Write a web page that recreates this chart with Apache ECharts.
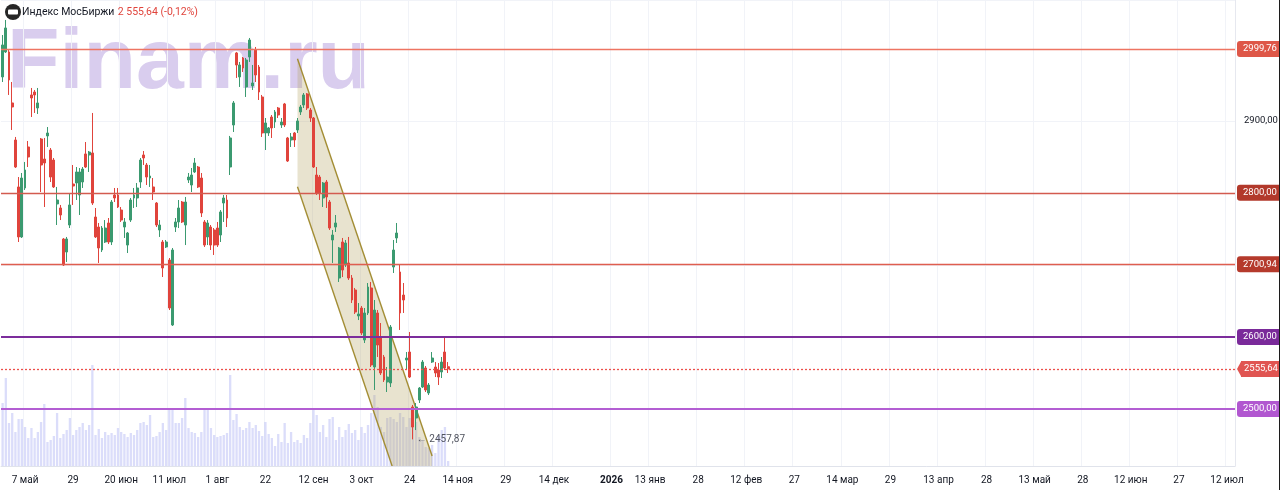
<!DOCTYPE html>
<html>
<head>
<meta charset="utf-8">
<script src="https://cdn.jsdelivr.net/npm/echarts@6/dist/echarts.min.js"></script>
<style>
html,body{margin:0;padding:0;background:#fff;overflow:hidden;width:1280px;height:490px;}
#chart{width:1280px;height:490px;}
</style>
</head>
<body>
<div id="chart"></div>
<script>
// ---------- data ----------
const title = 'Индекс МосБиржи';
const lastQuote = '2 555,64 (-0,12%)';
const watermark = 'Finam.ru';

// number of bar slots on the time axis (history + projected future)
const slotCount = 385;
// slot index of each time-axis label and its text
const tickSlots  = [7, 22, 37, 52, 67, 82, 97, 112, 127, 142, 157, 172, 190, 202, 217, 232, 247, 262, 277, 292, 307, 322, 337, 352, 367, 382];
const tickLabels = ['7 май', '29', '20 июн', '11 июл', '1 авг', '22', '12 сен', '3 окт', '24', '14 ноя', '29', '14 дек', '2026', '13 янв', '28', '12 фев', '27', '14 мар', '29', '13 апр', '28', '13 май', '28', '12 июн', '27', '12 июл'];

// daily candles: [open, close, low, high]
const candles = [
  [2960.9, 3005.3, 2953.9, 3019.1], [2995.6, 3028.9, 2994.2, 3040.0], [2995.6, 2956.7, 2935.9, 2998.3], [2924.8, 2919.2, 2887.3, 2953.9],
  [2873.4, 2835.9, 2834.5, 2877.6], [2808.2, 2738.8, 2731.8, 2822.0], [2738.8, 2820.6, 2737.4, 2827.6], [2806.8, 2831.8, 2804.0, 2842.9],
  [2863.7, 2849.8, 2835.9, 2872.0], [2935.9, 2931.7, 2905.3, 2945.6], [2940.0, 2935.9, 2910.9, 2942.8], [2917.8, 2924.8, 2909.5, 2945.6],
  [2874.8, 2838.7, 2801.2, 2876.2], [2847.0, 2841.5, 2780.4, 2876.2], [2879.0, 2883.1, 2863.7, 2891.4], [2859.5, 2822.0, 2815.1, 2862.3],
  [2845.6, 2808.2, 2806.8, 2848.4], [2784.6, 2790.1, 2755.4, 2808.2], [2779.0, 2769.3, 2762.3, 2783.2], [2736.0, 2699.9, 2698.5, 2737.4],
  [2717.9, 2736.0, 2704.1, 2738.8], [2755.4, 2783.2, 2751.2, 2799.8], [2812.3, 2809.5, 2783.2, 2838.7], [2813.7, 2829.0, 2790.1, 2835.9],
  [2797.1, 2829.0, 2769.3, 2834.5], [2815.1, 2833.1, 2806.8, 2835.9], [2854.0, 2835.9, 2834.5, 2870.6], [2852.6, 2856.7, 2829.0, 2858.1],
  [2855.4, 2785.9, 2783.2, 2910.9], [2766.5, 2738.8, 2737.4, 2779.0], [2752.6, 2723.5, 2702.7, 2758.2], [2720.7, 2751.2, 2717.9, 2754.0],
  [2731.8, 2751.2, 2730.4, 2762.3], [2758.2, 2731.8, 2729.0, 2765.1], [2731.8, 2787.3, 2727.6, 2790.1], [2797.1, 2792.9, 2787.3, 2806.8],
  [2797.1, 2780.4, 2779.0, 2806.8], [2776.2, 2762.3, 2759.6, 2780.4], [2752.6, 2759.6, 2737.4, 2765.1], [2727.6, 2744.3, 2716.5, 2745.7],
  [2762.3, 2790.1, 2759.6, 2792.9], [2792.9, 2797.1, 2779.0, 2806.8], [2792.9, 2806.8, 2780.4, 2813.7], [2815.1, 2845.6, 2806.8, 2848.4],
  [2852.6, 2848.4, 2838.7, 2858.1], [2838.7, 2822.0, 2810.9, 2841.5], [2820.6, 2823.4, 2808.2, 2838.7], [2808.2, 2801.2, 2790.1, 2820.6],
  [2785.9, 2755.4, 2752.6, 2787.3], [2748.5, 2755.4, 2738.8, 2762.3], [2731.8, 2695.7, 2683.2, 2734.6], [2724.9, 2731.8, 2723.5, 2734.6],
  [2706.8, 2640.2, 2637.4, 2709.6], [2616.6, 2720.7, 2615.2, 2723.5], [2752.6, 2759.6, 2745.7, 2765.1], [2759.6, 2779.0, 2751.2, 2790.1],
  [2787.3, 2759.6, 2758.2, 2788.7], [2755.4, 2787.3, 2727.6, 2794.3], [2817.9, 2822.0, 2813.7, 2827.6], [2810.9, 2824.8, 2801.2, 2834.5],
  [2829.0, 2841.5, 2827.6, 2848.4], [2835.9, 2808.2, 2806.8, 2837.3], [2820.6, 2772.1, 2766.5, 2827.6], [2759.6, 2727.6, 2724.9, 2762.3],
  [2738.8, 2758.2, 2727.6, 2762.3], [2752.6, 2727.6, 2720.7, 2755.4], [2748.5, 2727.6, 2713.8, 2751.2], [2751.2, 2727.6, 2724.9, 2759.6],
  [2741.5, 2773.5, 2731.8, 2776.2], [2785.9, 2792.9, 2759.6, 2797.1], [2790.1, 2765.1, 2752.6, 2797.1], [2835.9, 2876.2, 2824.8, 2879.0],
  [2894.2, 2924.8, 2884.5, 2927.5], [2994.2, 2977.5, 2959.5, 2995.6], [2960.9, 2977.5, 2947.0, 2981.7], [2987.2, 2973.3, 2967.8, 2988.6],
  [2947.0, 2984.4, 2933.1, 2987.2], [2988.6, 3012.2, 2981.7, 3015.0], [2948.4, 2952.5, 2942.8, 2977.5], [2998.3, 2963.6, 2953.9, 3002.5],
  [2974.7, 2940.0, 2928.9, 2977.5], [2933.1, 2883.1, 2877.6, 2935.9], [2883.1, 2897.0, 2859.5, 2903.9], [2883.1, 2890.1, 2879.0, 2891.4],
  [2905.3, 2890.1, 2876.2, 2908.1], [2898.4, 2912.3, 2890.1, 2915.0], [2917.8, 2908.1, 2903.9, 2919.2], [2894.2, 2898.4, 2890.1, 2903.9],
  [2923.4, 2894.2, 2891.4, 2924.8], [2876.2, 2844.2, 2842.9, 2877.6], [2873.4, 2877.6, 2863.7, 2883.1], [2883.1, 2873.4, 2863.7, 2884.5],
  [2887.3, 2899.8, 2883.1, 2903.9], [2912.3, 2919.2, 2908.1, 2922.0], [2922.0, 2935.9, 2917.8, 2938.6], [2937.3, 2917.8, 2915.0, 2938.6],
  [2915.0, 2903.9, 2898.4, 2917.8], [2903.9, 2835.9, 2834.5, 2905.3], [2824.8, 2799.8, 2797.1, 2835.9], [2822.0, 2799.8, 2790.1, 2824.8],
  [2792.9, 2813.7, 2780.4, 2815.1], [2815.1, 2794.3, 2779.0, 2817.9], [2787.3, 2751.2, 2748.5, 2790.1], [2734.6, 2741.5, 2702.7, 2748.5],
  [2752.6, 2758.2, 2745.7, 2769.3], [2681.8, 2723.5, 2676.3, 2724.9], [2731.8, 2692.9, 2683.2, 2737.4], [2699.9, 2730.4, 2697.1, 2734.6],
  [2702.7, 2681.8, 2679.1, 2738.8], [2681.8, 2651.3, 2647.1, 2686.0], [2665.2, 2634.6, 2631.9, 2668.0], [2629.1, 2631.9, 2623.5, 2647.1],
  [2640.2, 2605.5, 2602.7, 2643.0], [2595.8, 2633.3, 2591.6, 2640.2], [2633.3, 2669.3, 2630.5, 2674.9], [2668.0, 2561.1, 2558.3, 2676.3],
  [2558.3, 2637.4, 2526.4, 2651.3], [2633.3, 2588.8, 2572.2, 2637.4], [2598.6, 2550.0, 2547.2, 2619.4], [2572.2, 2540.3, 2537.5, 2575.0],
  [2537.5, 2544.4, 2523.6, 2558.3], [2536.1, 2613.8, 2530.5, 2616.6], [2697.1, 2720.7, 2688.8, 2734.6], [2737.4, 2744.3, 2730.4, 2758.2],
  [2690.2, 2633.3, 2609.7, 2699.9], [2658.2, 2651.3, 2633.3, 2674.9], [2568.0, 2570.8, 2554.1, 2579.1], [2579.1, 2544.4, 2543.0, 2606.9],
  [2502.8, 2475.0, 2457.87, 2505.6], [2487.5, 2502.8, 2470.8, 2508.3], [2512.5, 2529.1, 2508.3, 2530.5], [2530.5, 2565.2, 2529.1, 2568.0],
  [2556.9, 2526.4, 2523.6, 2559.7], [2522.2, 2533.3, 2519.4, 2536.1], [2565.2, 2570.8, 2563.9, 2579.1], [2558.3, 2550.0, 2544.4, 2565.2],
  [2554.1, 2544.4, 2533.3, 2563.9], [2551.4, 2565.2, 2543.0, 2572.2], [2579.1, 2556.9, 2554.1, 2599.9], [2558.7, 2555.64, 2550.0, 2565.2]
];

// daily turnover (relative units)
const volumes = [
  63, 88, 43, 53, 34, 47, 47, 39, 28, 38,
  28, 34, 44, 62, 24, 26, 30, 53, 28, 32,
  36, 48, 31, 36, 39, 43, 36, 41, 101, 31,
  37, 28, 34, 31, 33, 31, 38, 34, 32, 29,
  33, 31, 36, 43, 44, 41, 51, 29, 30, 34,
  43, 36, 56, 57, 43, 43, 48, 68, 38, 34,
  33, 29, 34, 58, 58, 38, 31, 29, 30, 31,
  33, 91, 46, 52, 39, 36, 38, 44, 38, 41,
  35, 30, 44, 32, 28, 20, 32, 24, 43, 23,
  34, 24, 26, 23, 31, 28, 43, 57, 51, 34,
  41, 29, 47, 49, 26, 39, 29, 36, 42, 33,
  36, 26, 39, 33, 41, 53, 71, 59, 39, 34,
  48, 49, 47, 44, 53, 49, 39, 48, 59, 44,
  29, 26, 19, 18, 21, 13, 30, 36, 39, 5
];

// horizontal price levels (the last close is levels[4])
const levels = [2999.76, 2800, 2700.94, 2600, 2555.64, 2500];
const lastCloseIndex = 4;
// descending price channel: [slot, price] anchors
const channelUpper = [[92, 2986.2], [134, 2434.8]];
const channelLower = [[92, 2808.5], [134, 2257.1]];
// marked low
const lowPoint = [128, 2457.87];
// visible price range
const priceRange = [2420.9, 3067.7];

// ---------- styles ----------
const levelStyles = [
  { line: '#ee7462', tag: '#de5748', width: 1.4, type: 'solid' },
  { line: '#d35b4f', tag: '#b2392b', width: 1.4, type: 'solid' },
  { line: '#df5e4f', tag: '#b53a2c', width: 1.4, type: 'solid' },
  { line: '#7c2d9c', tag: '#7a2a9a', width: 2, type: 'solid' },
  { line: '#ec4f4b', tag: '#e05552', width: 1.3, type: [2, 2] },
  { line: '#b35ed3', tag: '#b157d0', width: 2, type: 'solid' }
];
const UP = '#3b9a70', DOWN = '#e0443c';
const FONT = 'Roboto, "Noto Sans", sans-serif';
const GRID = { left: 1, right: 45, top: 0, bottom: 24 };

const fmt = v => v.toFixed(2).replace('.', ',');
const categories = Array.from({ length: slotCount }, (_, i) => String(i));
const tickMap = new Map(tickSlots.map((s, k) => [s, tickLabels[k]]));

const chart = echarts.init(document.getElementById('chart'), null, { renderer: 'canvas', width: 1280, height: 490 });

const option = {
  animation: false,
  backgroundColor: '#ffffff',
  textStyle: { fontFamily: FONT },
  grid: Object.assign({ containLabel: false, outerBoundsMode: 'none' }, GRID),
  xAxis: [{
    type: 'category',
    data: categories,
    boundaryGap: true,
    axisLine: { show: true, lineStyle: { color: '#e0e3eb' } },
    axisTick: { show: false },
    axisLabel: {
      interval: (i) => tickMap.has(i),
      formatter: (v, i) => {
        const t = tickMap.get(i) || '';
        return /^\d{4}$/.test(t) ? '{y|' + t + '}' : t;
      },
      color: '#131722', fontSize: 10, margin: 9, fontFamily: FONT,
      rich: { y: { fontWeight: 'bold', fontSize: 10, color: '#131722', fontFamily: FONT } }
    },
    splitLine: { show: true, interval: (i) => tickMap.has(i), lineStyle: { color: '#f1f3f8', width: 1 } }
  }],
  yAxis: [{
    type: 'value',
    position: 'right',
    min: priceRange[0],
    max: priceRange[1],
    splitNumber: 6,
    axisLine: { show: true, lineStyle: { color: '#e6e8ef' } },
    axisTick: { show: false },
    axisLabel: {
      color: '#131722', fontSize: 9.5, margin: 9, fontFamily: FONT,
      formatter: v => (Math.abs(v % 100) < 1e-6 ? fmt(v) : '')
    },
    splitLine: { show: true, lineStyle: { color: '#f1f3f8' } }
  }, {
    type: 'value', min: 0, max: 466, show: false, splitLine: { show: false }
  }],
  series: [
    {
      name: 'volume', type: 'bar', xAxisIndex: 0, yAxisIndex: 1,
      data: volumes, barWidth: '72%', silent: true, z: 1,
      itemStyle: { color: 'rgba(122,128,236,0.27)' }
    },
    {
      name: 'channel', type: 'custom', coordinateSystem: 'cartesian2d', clip: true, silent: true, z: 2,
      data: [channelUpper[0]],
      renderItem: (params, api) => {
        const u0 = api.coord(channelUpper[0]), u1 = api.coord(channelUpper[1]);
        const l0 = api.coord(channelLower[0]), l1 = api.coord(channelLower[1]);
        return {
          type: 'group',
          children: [
            { type: 'polygon', shape: { points: [u0, u1, l1, l0] }, style: { fill: 'rgba(178,162,95,0.30)' } },
            { type: 'line', shape: { x1: u0[0], y1: u0[1], x2: u1[0], y2: u1[1] }, style: { stroke: '#a38d34', lineWidth: 1.4 } },
            { type: 'line', shape: { x1: l0[0], y1: l0[1], x2: l1[0], y2: l1[1] }, style: { stroke: '#a38d34', lineWidth: 1.4 } }
          ]
        };
      }
    },
    {
      name: 'IMOEX', type: 'candlestick', z: 3, silent: true,
      data: candles,
      barWidth: 2.4,
      itemStyle: { color: UP, color0: DOWN, borderColor: UP, borderColor0: DOWN, borderWidth: 1 },
      markLine: {
        silent: true, symbol: ['none', 'none'], precision: 2, z: 5,
        label: {
          show: true, position: 'end', distance: 2,
          color: '#ffffff', fontSize: 9.5, fontFamily: FONT,
          padding: [3, 6, 3, 6], borderRadius: 3,
          formatter: p => fmt(p.value)
        },
        data: levels.map((v, k) => ({
          yAxis: v,
          lineStyle: { color: levelStyles[k].line, width: levelStyles[k].width, type: levelStyles[k].type, opacity: 1 },
          label: k === lastCloseIndex
            ? { backgroundColor: levelStyles[k].tag, distance: 6, padding: [3, 6, 3, 3], borderRadius: [0, 3, 3, 0] }
            : { backgroundColor: levelStyles[k].tag }
        }))
      },
      markPoint: {
        silent: true, symbol: 'circle', symbolSize: 0,
        data: [{
          coord: lowPoint,
          label: { show: true, position: 'right', distance: 4, formatter: '← ' + fmt(lowPoint[1]), color: '#50535e', fontSize: 10, fontFamily: FONT }
        }]
      }
    }
  ],
  graphic: [
    {
      type: 'text', x: 7, y: 64, z: -10, silent: true,
      style: { text: watermark, font: 'bold 86px "Liberation Sans", Arial, sans-serif', fill: '#d9cdee', textAlign: 'left', textVerticalAlign: 'middle' }
    },
    { type: 'circle', shape: { cx: 13, cy: 12, r: 8 }, style: { fill: '#262626' }, z: 20 },
    { type: 'rect', shape: { x: 8, y: 9.5, width: 10, height: 5, r: 1 }, style: { fill: '#ffffff' }, z: 21 },
    {
      type: 'text', x: 22, y: 12, z: 20,
      style: {
        text: '{a|' + title + '} {b|' + lastQuote + '}',
        textVerticalAlign: 'middle',
        rich: {
          a: { fontSize: 10.5, fill: '#131722', fontFamily: FONT },
          b: { fontSize: 10.5, fill: '#e0443c', fontFamily: FONT }
        }
      }
    },
    { type: 'rect', shape: { x: 1279, y: 0, width: 1, height: 490 }, style: { fill: '#1c1c1c' }, z: 30 }
  ]
};

chart.setOption(option);

// pointed left end of the last-price tag, placed through the axis scale
const yLast = chart.convertToPixel({ yAxisIndex: 0 }, levels[lastCloseIndex]);
const xEdge = chart.getWidth() - GRID.right;
chart.setOption({
  graphic: [{
    id: 'lastTip', type: 'polygon', z: 40, silent: true,
    shape: { points: [[xEdge + 2, yLast], [xEdge + 6.5, yLast - 8.2], [xEdge + 6.5, yLast + 8.2]] },
    style: { fill: levelStyles[lastCloseIndex].tag }
  }]
});
</script>
</body>
</html>
